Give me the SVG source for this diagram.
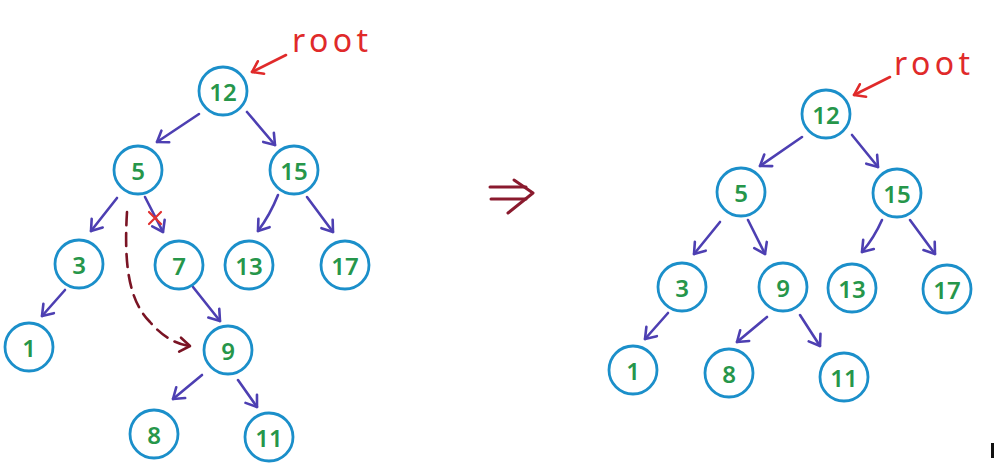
<svg xmlns="http://www.w3.org/2000/svg" width="994" height="471" viewBox="0 0 994 471">
  <style>
    .node circle { fill: #ffffff; stroke: #1b8fca; stroke-width: 2.8; }
    .node text { font-family: "Noto Sans", "DejaVu Sans", sans-serif; font-size: 24px; font-weight: 600; fill: #26964a; text-anchor: middle; dominant-baseline: central; }
    .edge { fill: none; stroke: #4d3fb2; stroke-width: 2.6; stroke-linecap: round; marker-end: url(#arrowBlue); }
    .pointer { fill: none; stroke: #e02a2a; stroke-width: 2.6; stroke-linecap: round; marker-end: url(#arrowRed); }
    .label { font-family: "Noto Sans", "DejaVu Sans", sans-serif; font-size: 32px; fill: #e02a2a; }
    .moved { fill: none; stroke: #7a1424; stroke-width: 2.6; stroke-dasharray: 13 8; stroke-linecap: round; marker-end: url(#arrowDark); }
  </style>
  <defs>
    <marker id="arrowBlue" markerUnits="userSpaceOnUse" markerWidth="24" markerHeight="24" viewBox="-12 -12 24 24" refX="0" refY="0" orient="auto">
      <path d="M-10,-7 L0,0 L-10,7" fill="none" stroke="#4d3fb2" stroke-width="2.6" stroke-linecap="round" stroke-linejoin="round"/>
    </marker>
    <marker id="arrowRed" markerUnits="userSpaceOnUse" markerWidth="24" markerHeight="24" viewBox="-12 -12 24 24" refX="0" refY="0" orient="auto">
      <path d="M-10,-7 L0,0 L-10,7" fill="none" stroke="#e02a2a" stroke-width="2.6" stroke-linecap="round" stroke-linejoin="round"/>
    </marker>
    <marker id="arrowDark" markerUnits="userSpaceOnUse" markerWidth="24" markerHeight="24" viewBox="-12 -12 24 24" refX="0" refY="0" orient="auto">
      <path d="M-10,-7 L0,0 L-10,7" fill="none" stroke="#7a1424" stroke-width="2.6" stroke-linecap="round" stroke-linejoin="round"/>
    </marker>
  </defs>

  <rect width="994" height="471" fill="#ffffff"/>

  <!-- connectors -->
  <g id="connectors">
    <!-- tree before deletion -->
    <path class="pointer" d="M286,55 L252,72"/>
    <path class="edge" d="M199,114 L157,142"/>
    <path class="edge" d="M247,112 L275,145"/>
    <path class="edge" d="M117,198 L91,231"/>
    <path class="edge" d="M145,197 L163,232"/>
    <path class="edge" d="M278,195 Q270,215 258,231"/>
    <path class="edge" d="M307,197 L333,232"/>
    <path class="edge" d="M65,290 L42,316"/>
    <path class="edge" d="M193,287 L220,321"/>
    <path class="edge" d="M202,375 L173,399"/>
    <path class="edge" d="M238,380 L257,407"/>
    <path class="moved" d="M127,212 C124,262 128,300 150,322 C162,336 175,344 190,346"/>
    <path d="M149,212 L161,224 M161,212 L149,224" stroke="#e03030" stroke-width="2.2" stroke-linecap="round"/>

    <!-- tree after deletion -->
    <path class="pointer" d="M890,77 L854,95"/>
    <path class="edge" d="M802,137 L760,166"/>
    <path class="edge" d="M852,135 L878,167"/>
    <path class="edge" d="M720,222 L694,254"/>
    <path class="edge" d="M748,220 L765,254"/>
    <path class="edge" d="M882,220 Q874,238 862,252"/>
    <path class="edge" d="M910,220 L935,254"/>
    <path class="edge" d="M668,313 L645,339"/>
    <path class="edge" d="M767,317 L737,342"/>
    <path class="edge" d="M800,315 L820,346"/>
  </g>

  <!-- labels -->
  <text class="label" x="292" y="52" textLength="76" lengthAdjust="spacing">root</text>
  <text class="label" x="894" y="75" textLength="76" lengthAdjust="spacing">root</text>

  <!-- implies arrow -->
  <g id="implies" fill="none" stroke="#8a1a2e" stroke-width="3" stroke-linecap="round" stroke-linejoin="round">
    <path d="M490,187 L526,187"/>
    <path d="M491,199 L526,199"/>
    <path d="M514,180 L533,193 L508,213"/>
  </g>

  <!-- nodes: before -->
  <g id="L12" class="node"><circle cx="223" cy="91" r="24"/><text x="223" y="91">12</text></g>
  <g id="L5" class="node"><circle cx="138" cy="170" r="24"/><text x="138" y="170">5</text></g>
  <g id="L15" class="node"><circle cx="294" cy="170" r="24"/><text x="294" y="170">15</text></g>
  <g id="L3" class="node"><circle cx="79" cy="264" r="24"/><text x="79" y="264">3</text></g>
  <g id="L7" class="node"><circle cx="179" cy="265" r="24"/><text x="179" y="265">7</text></g>
  <g id="L13" class="node"><circle cx="249" cy="265" r="24"/><text x="249" y="265">13</text></g>
  <g id="L17" class="node"><circle cx="345" cy="265" r="24"/><text x="345" y="265">17</text></g>
  <g id="L1" class="node"><circle cx="29" cy="347" r="24"/><text x="29" y="347">1</text></g>
  <g id="L9" class="node"><circle cx="228" cy="350" r="24"/><text x="228" y="350">9</text></g>
  <g id="L8" class="node"><circle cx="154" cy="434" r="24"/><text x="154" y="434">8</text></g>
  <g id="L11" class="node"><circle cx="269" cy="437" r="24"/><text x="269" y="437">11</text></g>

  <!-- nodes: after -->
  <g id="R12" class="node"><circle cx="826" cy="114" r="24"/><text x="826" y="114">12</text></g>
  <g id="R5" class="node"><circle cx="741" cy="192" r="24"/><text x="741" y="192">5</text></g>
  <g id="R15" class="node"><circle cx="897" cy="193" r="24"/><text x="897" y="193">15</text></g>
  <g id="R3" class="node"><circle cx="682" cy="287" r="24"/><text x="682" y="287">3</text></g>
  <g id="R9" class="node"><circle cx="783" cy="287" r="24"/><text x="783" y="287">9</text></g>
  <g id="R13" class="node"><circle cx="852" cy="288" r="24"/><text x="852" y="288">13</text></g>
  <g id="R17" class="node"><circle cx="947" cy="289" r="24"/><text x="947" y="289">17</text></g>
  <g id="R1" class="node"><circle cx="633" cy="370" r="24"/><text x="633" y="370">1</text></g>
  <g id="R8" class="node"><circle cx="729" cy="373" r="24"/><text x="729" y="373">8</text></g>
  <g id="R11" class="node"><circle cx="844" cy="377" r="24"/><text x="844" y="377">11</text></g>

  <rect x="991" y="443" width="3" height="15" fill="#111111"/>
</svg>
